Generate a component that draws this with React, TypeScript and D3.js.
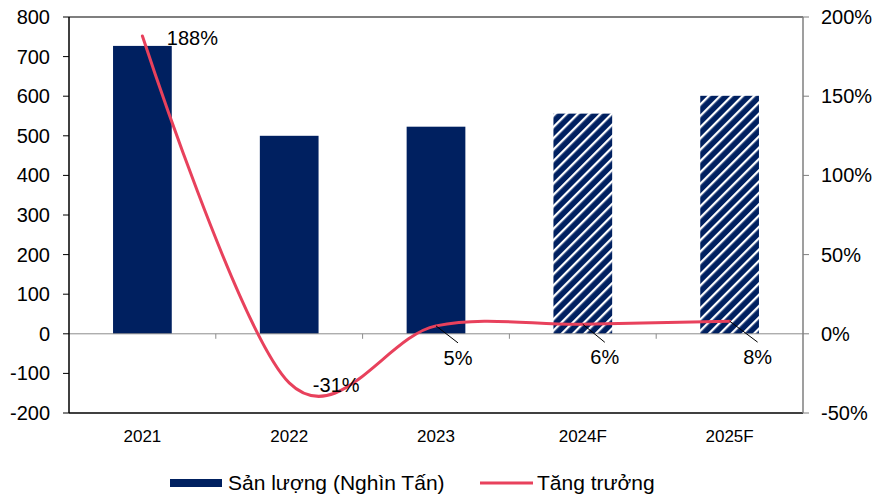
import React from "react";
import * as d3 from "d3";

// Production volume (thousand tonnes) and year-on-year growth (%)
const categories = ["2021", "2022", "2023", "2024F", "2025F"];
const output = [727, 500, 523, 556, 601];
const growth = [188, -31, 5, 6, 8];
const isForecast = [false, false, false, true, true];
const leftTicks = [-200, -100, 0, 100, 200, 300, 400, 500, 600, 700, 800];
const rightTicks = [-50, 0, 50, 100, 150, 200];
const legendLabels = ["Sản lượng (Nghìn Tấn)", "Tăng trưởng"];

const W = 876;
const H = 498;
const plot = { left: 69, right: 803, top: 17, bottom: 413 };
const NAVY = "#002060";
const RED = "#E8415C";
const FONT = "'Liberation Sans', Arial, sans-serif";
const FS = 20;

// label placement relative to each growth point: [dx, dy, leader]
const labelPlacement: [number, number, boolean][] = [
  [50, 2, false],
  [47, 2, false],
  [22, 32, true],
  [22, 33, true],
  [28, 36, true],
];

export default function App() {
  const x = d3
    .scaleBand<string>()
    .domain(categories)
    .range([plot.left, plot.right])
    .paddingInner(0.6)
    .paddingOuter(0.3);
  const step = x.step();
  const cx = (c: string) => (x(c) as number) + x.bandwidth() / 2;

  const yL = d3.scaleLinear().domain([-200, 800]).range([plot.bottom, plot.top]);
  const yR = d3.scaleLinear().domain([-50, 200]).range([plot.bottom, plot.top]);

  const line = d3
    .line<number>()
    .x((_, i) => cx(categories[i]))
    .y((d) => yR(d))
    .curve(d3.curveCardinal.tension(0));

  const zeroY = yL(0);

  return (
    <svg
      width={W}
      height={H}
      style={{ position: "absolute", left: 0, top: 0, background: "#fff" }}
      fontFamily={FONT}
    >
      <defs>
        <pattern
          id="hatch"
          patternUnits="userSpaceOnUse"
          width={8}
          height={8}
          patternTransform="rotate(-45)"
        >
          <rect width={8} height={8} fill={NAVY} />
          <rect y={0} width={8} height={2.3} fill="#fff" />
        </pattern>
      </defs>
      <rect width={W} height={H} fill="#fff" />

      {/* bars */}
      {categories.map((c, i) => (
        <rect
          key={c}
          x={x(c)}
          y={yL(output[i])}
          width={x.bandwidth()}
          height={zeroY - yL(output[i])}
          fill={isForecast[i] ? "url(#hatch)" : NAVY}
        />
      ))}

      {/* zero baseline with category ticks */}
      <line x1={plot.left} x2={plot.right} y1={zeroY} y2={zeroY} stroke="#8c8c8c" strokeWidth={1} />
      {categories.slice(1).map((c) => {
        const bx = (x(c) as number) - (step - x.bandwidth()) / 2;
        return <line key={c} x1={bx} x2={bx} y1={zeroY} y2={zeroY + 5} stroke="#8c8c8c" />;
      })}

      {/* frame */}
      <line x1={plot.left} x2={plot.right} y1={plot.top} y2={plot.top} stroke="#000" strokeWidth={1.2} />
      <line x1={plot.left} x2={plot.right} y1={plot.bottom} y2={plot.bottom} stroke="#000" strokeWidth={1.5} />
      <line x1={plot.left} x2={plot.left} y1={plot.top} y2={plot.bottom} stroke="#000" strokeWidth={1.5} />
      <line x1={plot.right} x2={plot.right} y1={plot.top} y2={plot.bottom} stroke="#7f7f7f" strokeWidth={1.5} />

      {/* left axis */}
      {leftTicks.map((t) => (
        <g key={t}>
          <line x1={plot.left - 6} x2={plot.left} y1={yL(t)} y2={yL(t)} stroke="#000" />
          <text x={50} y={yL(t)} dy="0.35em" textAnchor="end" fontSize={FS} fill="#000">
            {t}
          </text>
        </g>
      ))}

      {/* right axis */}
      {rightTicks.map((t) => (
        <g key={t}>
          <line x1={plot.right} x2={plot.right + 6} y1={yR(t)} y2={yR(t)} stroke="#7f7f7f" />
          <text x={821} y={yR(t)} dy="0.35em" textAnchor="start" fontSize={FS} fill="#000">
            {`${t}%`}
          </text>
        </g>
      ))}

      {/* category labels */}
      {categories.map((c) => (
        <text key={c} x={cx(c)} y={436} dy="0.35em" textAnchor="middle" fontSize={17} fill="#000">
          {c}
        </text>
      ))}

      {/* growth line */}
      <path d={line(growth) || ""} fill="none" stroke={RED} strokeWidth={3} strokeLinecap="round" />

      {/* growth labels */}
      {growth.map((g, i) => {
        const px = cx(categories[i]);
        const py = yR(g);
        const [dx, dy, leader] = labelPlacement[i];
        return (
          <g key={i}>
            {leader && (
              <line x1={px} y1={py} x2={px + dx} y2={py + dy - 15} stroke="#000" strokeWidth={1} />
            )}
            <text x={px + dx} y={py + dy} dy="0.35em" textAnchor="middle" fontSize={FS} fill="#000">
              {`${g}%`}
            </text>
          </g>
        );
      })}

      {/* legend */}
      <rect x={170} y={479} width={52} height={8} fill={NAVY} />
      <text x={228} y={483} dy="0.35em" fontSize={21} fill="#000">
        {legendLabels[0]}
      </text>
      <line x1={480} x2={533} y1={483} y2={483} stroke={RED} strokeWidth={3} />
      <text x={537} y={483} dy="0.35em" fontSize={21} fill="#000">
        {legendLabels[1]}
      </text>
    </svg>
  );
}
